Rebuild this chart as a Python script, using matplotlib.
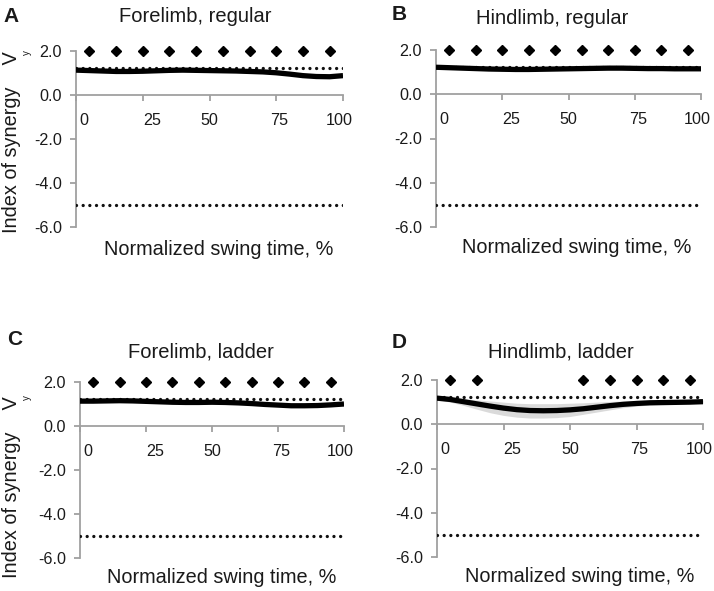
import matplotlib
matplotlib.use("Agg")
import matplotlib.pyplot as plt
from matplotlib.transforms import ScaledTranslation

plt.rcParams['font.family'] = ['Liberation Sans', 'DejaVu Sans']

# ---------------- data ----------------
time_pct = [0, 5, 10, 15, 20, 25, 30, 35, 40, 45, 50, 55, 60, 65, 70, 75, 80, 85, 90, 95, 100]

fore_regular = [1.13, 1.11, 1.09, 1.07, 1.07, 1.08, 1.10, 1.12, 1.13, 1.12, 1.11, 1.10, 1.09, 1.07, 1.05, 1.01,
                0.95, 0.88, 0.84, 0.83, 0.88]
hind_regular = [1.22, 1.20, 1.18, 1.16, 1.14, 1.13, 1.12, 1.12, 1.13, 1.14, 1.15, 1.16, 1.17, 1.18, 1.18, 1.17,
                1.16, 1.16, 1.15, 1.15, 1.15]
fore_ladder = [1.13, 1.13, 1.14, 1.15, 1.14, 1.12, 1.10, 1.08, 1.07, 1.07, 1.08, 1.07, 1.05, 1.02, 0.98, 0.95,
               0.92, 0.92, 0.93, 0.96, 1.00]
hind_ladder = [1.18, 1.12, 1.02, 0.92, 0.82, 0.73, 0.66, 0.62, 0.61, 0.62, 0.65, 0.70, 0.77, 0.84, 0.90, 0.94,
               0.97, 0.98, 0.99, 1.00, 1.02]
hind_ladder_lo = [1.12, 1.00, 0.85, 0.68, 0.52, 0.40, 0.32, 0.28, 0.28, 0.30, 0.35, 0.45, 0.55, 0.65, 0.75, 0.82,
                  0.87, 0.90, 0.92, 0.93, 0.95]
hind_ladder_hi = [1.22, 1.20, 1.15, 1.10, 1.05, 1.00, 0.95, 0.93, 0.93, 0.93, 0.95, 0.97, 1.00, 1.03, 1.05, 1.06,
                  1.07, 1.07, 1.08, 1.08, 1.10]

sig_all = [5, 15, 25, 35, 45, 55, 65, 75, 85, 95]
sig_hind_ladder = [5, 15, 55, 65, 75, 85, 95]
sig_level = 2.0

upper_ref = 1.25
lower_ref = -5.0

xticks = [0, 25, 50, 75, 100]
xtick_labels = ['0', '25', '50', '75', '100']
yticks = [-6, -4, -2, 0, 2]
ytick_labels = ['-6.0', '-4.0', '-2.0', '0.0', '2.0']

titles = ['Forelimb, regular', 'Hindlimb, regular', 'Forelimb, ladder', 'Hindlimb, ladder']
letters = ['A', 'B', 'C', 'D']
xlabel = 'Normalized swing time, %'
ylabel_main = 'Index of synergy    V'
ylabel_sub = 'y'

# ---------------- layout (pixels) ----------------
W, H = 714, 591
fig = plt.figure(figsize=(W / 100, H / 100), dpi=100)


def box(l, r, t, b):
    return [l / W, 1 - b / H, (r - l) / W, (b - t) / H]


axes_px = [(76, 343, 51, 227), (436, 701, 50, 227), (80, 344, 382, 558), (437, 703, 380, 557)]
title_px = [(195, 22), (552, 24), (201, 357), (561, 358)]
letter_px = [(3, 22), (392, 20), (7, 345), (392, 348)]
xlabel_px = [(219, 255), (577, 253), (222, 583), (580, 582)]
ylabel_px = [(17, 142), None, (17, 487), None]

series = [fore_regular, hind_regular, fore_ladder, hind_ladder]
sigs = [sig_all, sig_all, sig_all, sig_hind_ladder]

GRAY = '#a0a0a0'
TXT = '#1a1a1a'
tick_offsets_px = [8, 9, 0, 3, -4]

for i in range(4):
    ax = fig.add_axes(box(*axes_px[i]))
    ax.set_xlim(0, 100)
    ax.set_ylim(-6, 2)
    for s in ['top', 'right']:
        ax.spines[s].set_visible(False)
    ax.spines['bottom'].set_position(('data', 0))
    for s in ['left', 'bottom']:
        ax.spines[s].set_color(GRAY)
        ax.spines[s].set_linewidth(1.3)
    ax.set_xticks(xticks)
    ax.set_xticklabels(xtick_labels)
    ax.set_yticks(yticks)
    ax.set_yticklabels(ytick_labels)
    ax.tick_params(axis='both', direction='out', length=4, width=1.3, color=GRAY,
                   labelsize=11.6, labelcolor=TXT)
    ax.tick_params(axis='x', pad=9)
    ax.tick_params(axis='y', pad=6)
    for lbl, dx in zip(ax.get_xticklabels(), tick_offsets_px):
        lbl.set_transform(lbl.get_transform() + ScaledTranslation(dx / 100, 0, fig.dpi_scale_trans))

    if i == 3:
        ax.fill_between(time_pct, hind_ladder_lo, hind_ladder_hi, color='#dadada', linewidth=0, zorder=1)

    ax.axhline(upper_ref, color='#111111', lw=2.4, linestyle=(0, (0.001, 2.0)),
               dash_capstyle='round', zorder=3)
    ax.axhline(lower_ref, color='#111111', lw=2.4, linestyle=(0, (0.001, 2.0)),
               dash_capstyle='round', zorder=3)
    ax.plot(time_pct, series[i], color='black', lw=3.8, solid_capstyle='butt',
            solid_joinstyle='round', zorder=4)
    ax.plot(sigs[i], [sig_level] * len(sigs[i]), linestyle='none', marker='D', ms=4.8,
            color='black', clip_on=False, zorder=5)

    tx, ty = title_px[i]
    fig.text(tx / W, 1 - ty / H, titles[i], ha='center', va='baseline', fontsize=14.5, color=TXT)
    lx, ly = letter_px[i]
    fig.text(lx / W, 1 - ly / H, letters[i], ha='left', va='baseline', fontsize=15,
             fontweight='bold', color=TXT)
    xx, xy = xlabel_px[i]
    fig.text(xx / W, 1 - xy / H, xlabel, ha='center', va='baseline', fontsize=14.3, color=TXT)
    if ylabel_px[i] is not None:
        yx, yy = ylabel_px[i]
        t = fig.text(yx / W, 1 - yy / H, ylabel_main, ha='center', va='baseline', rotation=90,
                     rotation_mode='anchor', fontsize=14.3, color=TXT)
        fig.canvas.draw()
        bb = t.get_window_extent()
        fig.text((bb.x1 + 1) / W, (bb.y1 + 1) / H, ylabel_sub, ha='left', va='top', rotation=90,
                 fontsize=7, color=TXT)

fig.savefig('out.png', dpi=100)
